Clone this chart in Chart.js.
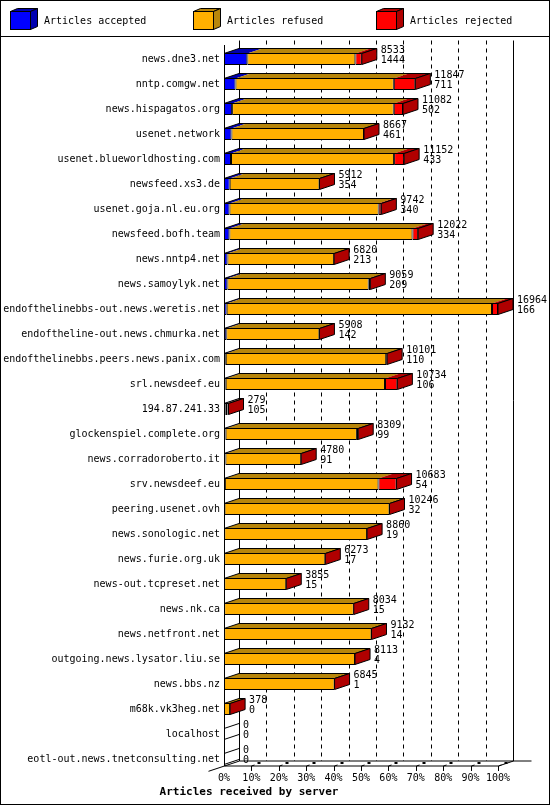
<!DOCTYPE html>
<html>
<head>
<meta charset="utf-8">
<script src="https://cdn.jsdelivr.net/npm/chart.js@4"></script>
<style>
  html, body { margin: 0; padding: 0; background: #fff; }
  #wrap { width: 550px; height: 805px; }
</style>
</head>
<body>
<div id="wrap"><canvas id="chart" width="550" height="805"></canvas></div>
<script>
// servers, top to bottom
const hosts = [
    'news.dne3.net', 'nntp.comgw.net', 'news.hispagatos.org', 'usenet.network',
    'usenet.blueworldhosting.com', 'newsfeed.xs3.de', 'usenet.goja.nl.eu.org',
    'newsfeed.bofh.team', 'news.nntp4.net', 'news.samoylyk.net',
    'endofthelinebbs-out.news.weretis.net', 'endoftheline-out.news.chmurka.net',
    'endofthelinebbs.peers.news.panix.com', 'srl.newsdeef.eu', '194.87.241.33',
    'glockenspiel.complete.org', 'news.corradoroberto.it', 'srv.newsdeef.eu',
    'peering.usenet.ovh', 'news.sonologic.net', 'news.furie.org.uk',
    'news-out.tcpreset.net', 'news.nk.ca', 'news.netfront.net',
    'outgoing.news.lysator.liu.se', 'news.bbs.nz', 'm68k.vk3heg.net',
    'localhost', 'eotl-out.news.tnetconsulting.net'
];
// numbers printed next to each bar
const totals = [8533, 11847, 11082, 8667, 11152, 5912, 9742, 12022, 6820, 9059,
    16964, 5908, 10101, 10734, 279, 8309, 4780, 10683, 10246, 8860,
    6273, 3855, 8034, 9132, 8113, 6845, 378, 0, 0];
const accepted = [1444, 711, 502, 461, 433, 354, 340, 334, 213, 209,
    166, 142, 110, 106, 105, 99, 91, 54, 32, 19,
    17, 15, 15, 14, 4, 1, 0, 0, 0];
const refused = [6689, 9804, 10010, 8206, 10097, 5558, 9236, 11335, 6607, 8750,
    16425, 5766, 9931, 9861, 114, 8130, 4689, 9509, 10214, 8841,
    6256, 3840, 8019, 9118, 8109, 6844, 378, 0, 0];
const rejected = [400, 1332, 570, 0, 622, 0, 166, 353, 0, 100,
    373, 0, 60, 767, 60, 80, 0, 1120, 0, 0,
    0, 0, 0, 0, 0, 0, 0, 0, 0];
const tickLabels = ['0%', '10%', '20%', '30%', '40%', '50%', '60%', '70%', '80%', '90%', '100%'];

const maxTotal = 16964;
const DX = 15, DY = -5;          // depth of the 3d bars
const FONT = '"DejaVu Sans Mono", "Liberation Mono", monospace';

const front = ['#0000ff', '#ffb000', '#ff0000'];
const dark = ['#0000b0', '#b8860b', '#b00000'];

function poly(ctx, pts) {
    ctx.beginPath();
    ctx.moveTo(pts[0][0], pts[0][1]);
    for (let i = 1; i < pts.length; i++) ctx.lineTo(pts[i][0], pts[i][1]);
    ctx.closePath();
}

const backPlane = {
    id: 'backPlane',
    beforeDatasetsDraw(chart) {
        const ctx = chart.ctx;
        const xs = chart.scales.x;
        const area = chart.chartArea;
        const yF = area.bottom - 5.5;      // front floor edge
        const yB = yF + DY;                // back floor edge
        const top = area.top - 6;
        ctx.save();
        ctx.strokeStyle = '#000';
        ctx.lineWidth = 1;
        // dashed grid on the back wall
        ctx.setLineDash([4, 4]);
        for (let i = 1; i < 10; i++) {
            const x = Math.round(xs.getPixelForValue(maxTotal * i / 10) + DX) + 0.5;
            ctx.beginPath();
            ctx.moveTo(x, top);
            ctx.lineTo(x, yB);
            ctx.stroke();
        }
        ctx.setLineDash([]);
        const xb0 = Math.round(xs.getPixelForValue(0) + DX) + 0.5;
        const xb1 = Math.round(xs.getPixelForValue(maxTotal) + DX) + 0.5;
        const xf0 = Math.round(xs.getPixelForValue(0)) + 0.5;
        const xf1 = Math.round(xs.getPixelForValue(maxTotal)) + 0.5;
        ctx.beginPath();
        ctx.moveTo(xb0, top); ctx.lineTo(xb0, yB);
        ctx.moveTo(xb1, top); ctx.lineTo(xb1, yB);
        // floor
        ctx.moveTo(xb0, yB); ctx.lineTo(xb1 + 18, yB);
        ctx.moveTo(xf0, yF); ctx.lineTo(xf1, yF); ctx.lineTo(xb1, yB);
        ctx.moveTo(xf0 - 16, yF + 5.3); ctx.lineTo(xb0, yB);
        ctx.stroke();
        // 3d tick marks on the floor
        for (let i = 1; i <= 10; i++) {
            const x = Math.round(xs.getPixelForValue(maxTotal * i / 10)) + 0.5;
            ctx.beginPath();
            ctx.moveTo(x, yF); ctx.lineTo(x, yF + 5);
            ctx.moveTo(x, yF); ctx.lineTo(x + 3, yF - 1);
            ctx.stroke();
            ctx.fillStyle = '#000';
            ctx.fillRect(x + 6, yF - 4, 3, 2);
        }
        ctx.restore();
    },
    afterDatasetsDraw(chart) {
        const ctx = chart.ctx;
        const xs = chart.scales.x;
        const area = chart.chartArea;
        const metas = [0, 1, 2].map(i => chart.getDatasetMeta(i));
        ctx.save();
        ctx.lineWidth = 1;
        ctx.strokeStyle = '#000';
        const x0 = xs.getPixelForValue(0);
        for (let r = 0; r < hosts.length; r++) {
            const b = metas[0].data[r].getProps(['y', 'height'], true);
            const yT = b.y - b.height / 2 + 0.5;
            const yBt = b.y + b.height / 2 - 0.5;
            const xEnd = xs.getPixelForValue(totals[r]);
            if (totals[r] > 0) {
                // top faces, one per segment
                for (let d = 0; d < 3; d++) {
                    const el = metas[d].data[r].getProps(['x', 'base'], true);
                    if (Math.abs(el.x - el.base) < 0.01) continue;
                    ctx.fillStyle = dark[d];
                    poly(ctx, [[el.base, yT], [el.x, yT], [el.x + DX, yT + DY], [el.base + DX, yT + DY]]);
                    ctx.fill();
                }
                poly(ctx, [[x0, yT], [xEnd, yT], [xEnd + DX, yT + DY], [x0 + DX, yT + DY]]);
                ctx.stroke();
                // right side face
                ctx.fillStyle = dark[2];
                poly(ctx, [[xEnd, yT], [xEnd + DX, yT + DY], [xEnd + DX, yBt + DY], [xEnd, yBt]]);
                ctx.fill();
                ctx.stroke();
            } else {
                ctx.beginPath();
                ctx.moveTo(x0, yT); ctx.lineTo(x0 + DX, yT + DY);
                ctx.moveTo(x0, yBt); ctx.lineTo(x0 + DX, yBt + DY);
                ctx.stroke();
            }
            // numbers right of the bar
            ctx.fillStyle = '#000';
            ctx.font = '10px ' + FONT;
            ctx.textAlign = 'left';
            ctx.textBaseline = 'middle';
            ctx.fillText(String(totals[r]), xEnd + DX + 4, b.y - 9);
            ctx.fillText(String(accepted[r]), xEnd + DX + 4, b.y + 1.5);
        }
        // front left edge
        const xf0 = Math.round(x0) + 0.5;
        ctx.beginPath();
        ctx.moveTo(xf0, area.top - 1.5);
        ctx.lineTo(xf0, area.bottom - 5.5);
        ctx.stroke();
        ctx.restore();
    },
    afterDraw(chart) {
        const ctx = chart.ctx;
        ctx.save();
        ctx.strokeStyle = '#000';
        ctx.lineWidth = 1;
        // legend
        const names = chart.data.datasets.map(ds => ds.label);
        const lx = [10, 193, 376];
        for (let i = 0; i < 3; i++) {
            const x = lx[i] + 0.5, y = 11.5, w = 20, h = 18, dx = 7, dy = -3;
            ctx.fillStyle = dark[i];
            poly(ctx, [[x, y], [x + w, y], [x + w + dx, y + dy], [x + dx, y + dy]]);
            ctx.fill(); ctx.stroke();
            poly(ctx, [[x + w, y], [x + w + dx, y + dy], [x + w + dx, y + h + dy], [x + w, y + h]]);
            ctx.fill(); ctx.stroke();
            ctx.fillStyle = front[i];
            ctx.fillRect(x, y, w, h);
            ctx.strokeRect(x, y, w, h);
            ctx.fillStyle = '#000';
            ctx.font = '10px ' + FONT;
            ctx.textAlign = 'left';
            ctx.textBaseline = 'middle';
            ctx.fillText(names[i], lx[i] + 34, 21);
        }
        ctx.beginPath();
        ctx.moveTo(0, 36.5);
        ctx.lineTo(550, 36.5);
        ctx.stroke();
        ctx.strokeRect(0.5, 0.5, 549, 804);
        ctx.restore();
    }
};

const ctx = document.getElementById('chart').getContext('2d');
new Chart(ctx, {
    type: 'bar',
    data: {
        labels: hosts,
        datasets: [
            { label: 'Articles accepted', data: accepted, backgroundColor: front[0] },
            { label: 'Articles refused', data: refused, backgroundColor: front[1] },
            { label: 'Articles rejected', data: rejected, backgroundColor: front[2] }
        ]
    },
    options: {
        indexAxis: 'y',
        responsive: false,
        animation: false,
        devicePixelRatio: 1,
        layout: { padding: { top: 46.5, right: 52, left: 0, bottom: 0 } },
        datasets: {
            bar: {
                barThickness: 12,
                borderWidth: 1,
                borderColor: '#000',
                borderSkipped: false,
                inflateAmount: 0
            }
        },
        scales: {
            x: {
                stacked: true,
                min: 0,
                max: maxTotal,
                afterFit(scale) { scale.height = 14.3; },
                afterBuildTicks(scale) {
                    scale.ticks = tickLabels.map((t, i) => ({ value: maxTotal * i / 10 }));
                },
                grid: { display: false, drawTicks: false },
                border: { display: false },
                ticks: {
                    autoSkip: false,
                    maxRotation: 0,
                    padding: 1,
                    color: '#000',
                    font: { family: FONT, size: 10 },
                    callback: (v, i) => tickLabels[i]
                }
            },
            y: {
                stacked: true,
                afterFit(scale) { scale.width = 224; },
                grid: { display: false, drawTicks: false },
                border: { display: false },
                ticks: {
                    autoSkip: false,
                    padding: 4,
                    color: '#000',
                    font: { family: FONT, size: 10 }
                }
            }
        },
        plugins: {
            legend: { display: false },
            tooltip: { enabled: false },
            title: {
                display: true,
                position: 'bottom',
                text: 'Articles received by server',
                color: '#000',
                font: { family: FONT, size: 11, weight: 'bold' },
                padding: { top: 0, bottom: 6 }
            }
        }
    },
    plugins: [backPlane]
});
</script>
</body>
</html>
